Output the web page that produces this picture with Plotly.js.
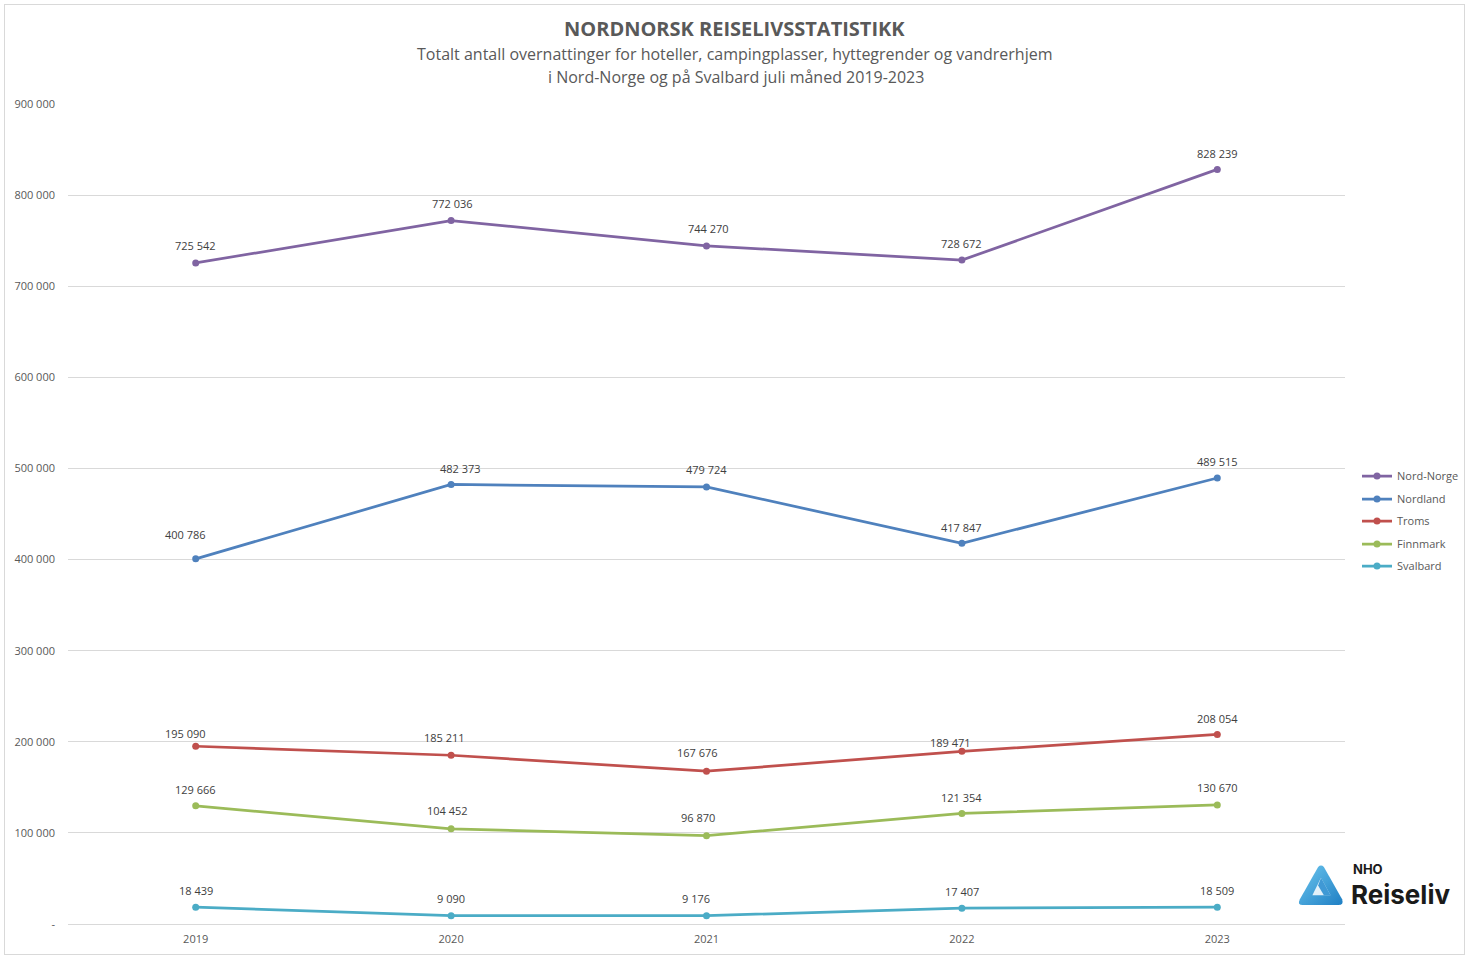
<!DOCTYPE html>
<html><head><meta charset="utf-8">
<script src="https://cdn.plot.ly/plotly-3.0.1.min.js"></script>
<style>
html,body{margin:0;padding:0;background:#fff;}
#chart{width:1469px;height:959px;}
#frame{position:absolute;left:4px;top:4px;width:1461px;height:951px;border:1px solid #d9d9d9;pointer-events:none;box-sizing:border-box;}
</style></head>
<body>
<div id="chart"></div>
<div id="frame"></div>
<script>
const years = ['2019','2020','2021','2022','2023'];
const seriesNames = ['Nord-Norge','Nordland','Troms','Finnmark','Svalbard'];
const nordNorge = [725542, 772036, 744270, 728672, 828239];
const nordland  = [400786, 482373, 479724, 417847, 489515];
const troms     = [195090, 185211, 167676, 189471, 208054];
const finnmark  = [129666, 104452, 96870, 121354, 130670];
const svalbard  = [18439, 9090, 9176, 17407, 18509];
const yTickVals = [0,100000,200000,300000,400000,500000,600000,700000,800000,900000];
const yTickText = ['-','100 000','200 000','300 000','400 000','500 000','600 000','700 000','800 000','900 000'];
const titleText = 'NORDNORSK REISELIVSSTATISTIKK';
const subtitle1 = 'Totalt antall overnattinger for hoteller, campingplasser, hyttegrender og vandrerhjem';
const subtitle2 = 'i Nord-Norge og på Svalbard juli måned 2019-2023';

const colors = ['#8064a2','#4f81bd','#c0504d','#9bbb59','#4bacc6'];
const allSeries = [nordNorge, nordland, troms, finnmark, svalbard];
const FONT = '"Open Sans", sans-serif';

function fmt(v){ return String(v).replace(/\B(?=(\d{3})+(?!\d))/g,' '); }

const legendIds = ['legend','legend2','legend3','legend4','legend5'];
const traces = allSeries.map((vals,i)=>({
  type:'scatter', mode:'lines+markers', name:seriesNames[i],
  x:years, y:vals, legend:legendIds[i],
  line:{color:colors[i], width:2.75},
  marker:{color:colors[i], size:7},
  hoverinfo:'x+y'
}));

// label offsets (styling): [xshift, yshift] per series/point
const offs = [
  [[0,17],[1,17],[2,17],[0,17],[0,16]],
  [[-10,24],[9,16],[0,17],[0,16],[0,17]],
  [[-10,13],[-7,18],[-9,19],[-11,9],[0,16]],
  [[0,16],[-4,18],[-9,18],[0,16],[0,17]],
  [[0,17],[0,17],[-11,17],[0,17],[0,17]]
];
const annotations = [];
allSeries.forEach((vals,i)=>{
  vals.forEach((v,j)=>{
    annotations.push({x:j, y:v, xref:'x', yref:'y', text:fmt(v), showarrow:false,
      xshift:offs[i][j][0], yshift:offs[i][j][1], font:{family:FONT,size:11,color:'#404040'}});
  });
});
const py = p => (924-p)/820, px = p => (p-68)/1277;
annotations.push({xref:'paper',yref:'paper',x:px(735),y:py(29),xanchor:'center',yanchor:'middle',
  text:'<b>'+titleText+'</b>',showarrow:false,font:{family:FONT,size:20,color:'#595959'}});
annotations.push({xref:'paper',yref:'paper',x:px(735),y:py(54),xanchor:'center',yanchor:'middle',
  text:subtitle1,showarrow:false,font:{family:FONT,size:16,color:'#595959'}});
annotations.push({xref:'paper',yref:'paper',x:px(736),y:py(77),xanchor:'center',yanchor:'middle',
  text:subtitle2,showarrow:false,font:{family:FONT,size:16,color:'#595959'}});
annotations.push({xref:'paper',yref:'paper',x:px(1351),y:py(869),xanchor:'left',yanchor:'middle',
  text:'<b>NHO</b>',showarrow:false,font:{family:'Inter, "Open Sans", sans-serif',size:13,color:'#1a1a1a'}});
annotations.push({xref:'paper',yref:'paper',x:px(1349),y:py(894),xanchor:'left',yanchor:'middle',
  text:'<b>Reiseliv</b>',showarrow:false,font:{family:'Inter, "Open Sans", sans-serif',size:26,color:'#1a1a1a'}});

const logoSvg = '<svg xmlns="http://www.w3.org/2000/svg" width="50" height="45" viewBox="0 0 50 45">'+
 '<defs><linearGradient id="g" x1="0" y1="0" x2="1" y2="1"><stop offset="0" stop-color="#6cc6ee"/><stop offset="1" stop-color="#1f7fc4"/></linearGradient></defs>'+
 '<path d="M22 3 Q25 0 28 3 L47 36 Q49 42 43 42 L6 42 Q0 42 3 36 Z" fill="url(#g)"/>'+
 '<path d="M25 14 L35 32 L16 32 Z" fill="#ffffff" opacity="0.85"/>'+
 '<path d="M25 14 L35 32 L28 32 L22 22 Z" fill="#2d8fd0" opacity="0.9"/></svg>';

const legendTops = [476,499,521,544,566];
const layout = {
  width:1469, height:959,
  margin:{l:68, r:124, t:104, b:35},
  paper_bgcolor:'#ffffff', plot_bgcolor:'#ffffff',
  font:{family:FONT, color:'#595959', size:11},
  xaxis:{type:'category', range:[-0.5,4.5], showgrid:false, showline:false, zeroline:false,
    ticks:'', ticklabelstandoff:7, tickfont:{family:FONT,size:11,color:'#595959'}, fixedrange:true},
  yaxis:{range:[0,900000], tickvals:yTickVals, ticktext:yTickText, showgrid:true, gridcolor:'#d9d9d9', gridwidth:1,
    zeroline:true, zerolinecolor:'#d9d9d9', zerolinewidth:1, showline:false, ticks:'',
    ticklabelstandoff:12, tickfont:{family:FONT,size:11,color:'#595959'}, fixedrange:true},
  showlegend:true,
  annotations:annotations,
  images:[{source:'data:image/svg+xml;charset=utf-8,'+encodeURIComponent(logoSvg), xref:'paper', yref:'paper',
    x:px(1297), y:py(864), sizex:48/1277, sizey:44/820, xanchor:'left', yanchor:'top', sizing:'stretch', layer:'above'}]
};
legendIds.forEach((id,i)=>{
  layout[id] = {xref:'container', yref:'container', x:1357/1469, xanchor:'left', y:1-legendTops[i]/959, yanchor:'middle',
    font:{family:FONT,size:11,color:'#595959'}, bgcolor:'rgba(0,0,0,0)', itemwidth:30, borderwidth:0};
});
Plotly.newPlot('chart', traces, layout, {displayModeBar:false, staticPlot:true});
</script>
</body></html>
